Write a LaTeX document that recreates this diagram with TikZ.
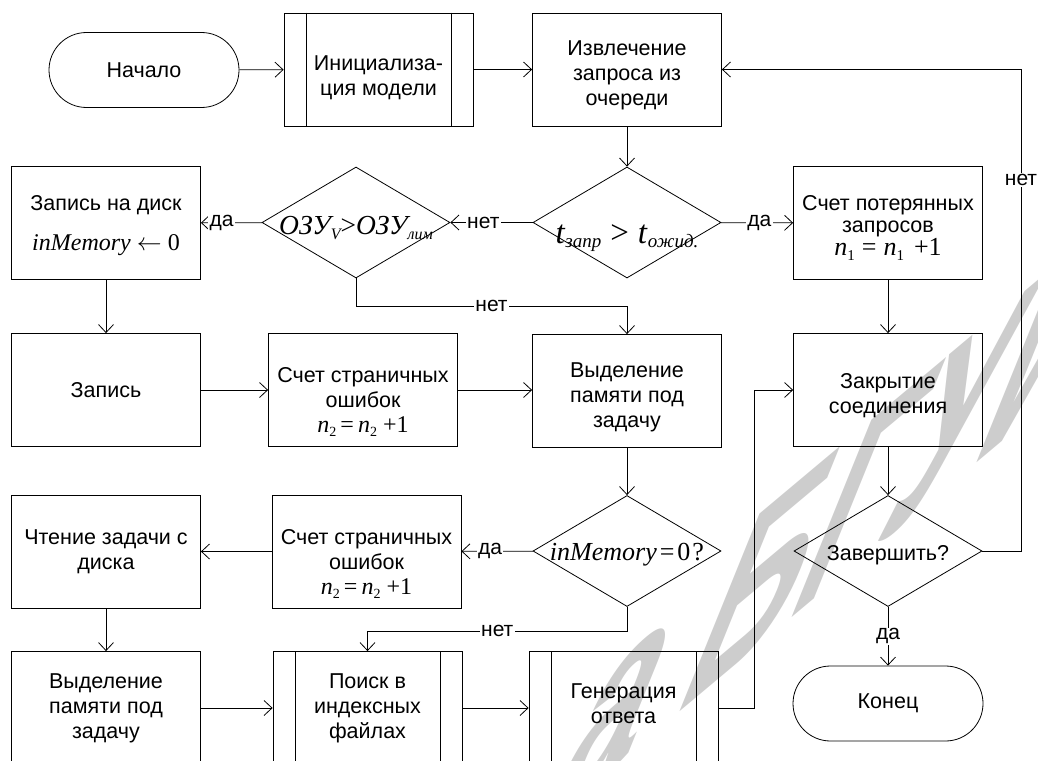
\documentclass[tikz,border=0pt]{standalone}
\usepackage{fontspec}
\setmainfont{Liberation Sans}
\newfontfamily\tmr{Liberation Serif}
\newfontfamily\wmfont{Liberation Sans}
\usetikzlibrary{arrows.meta,shapes.geometric,calc}
\newcommand\fsz[1]{\fontsize{#1}{#1}\selectfont}
\newcommand\lowsub[2]{\raisebox{-#1}{#2}}
\definecolor{wmgray}{RGB}{205,205,205}
\tikzset{
  shapeline/.style={draw, line width=0.8pt, inner sep=0pt},
  proc/.style={shapeline, minimum width=189pt, minimum height=113pt, align=center,
    font=\fontsize{21.5}{25}\selectfont},
  subproc/.style={proc},
  term/.style={shapeline, minimum width=190pt, minimum height=75pt, rounded corners=37.5pt,
    font=\fontsize{21.5}{25}\selectfont},
  decision/.style={shapeline, diamond, aspect=1.69, minimum width=188pt, minimum height=111pt},
  txt/.style={align=center, inner sep=0pt, font=\fontsize{21.5}{25}\selectfont},
  flow/.style={line width=0.8pt, -{Straight Barb[length=8pt,width=15pt]}},
  plain/.style={line width=0.8pt},
  lbl/.style={fill=white, inner xsep=1.5pt, inner ysep=1pt, font=\fontsize{21}{21}\selectfont},
}
\begin{document}
\begin{tikzpicture}[x=1pt, y=-1pt]
\useasboundingbox (0,0) rectangle (1038,760);
\clip (0,0) rectangle (1038,760);

% watermark (slanted, rising lettering)
\begin{scope}[shift={(540,829)}, cm={0.502,0.421,0.375,0.927,(0,0)}]
  \node[transform shape, anchor=base west, inner sep=0pt, text=wmgray,
        font=\wmfont\bfseries\fsz{310}] (wmark) at (0,0) {а БГУИР};
\end{scope}

% helper columns for the loop-back lines
\coordinate (loopR) at (1021,0);
\coordinate (midR) at (754,0);

% row 1
\node[term] (start) at (144,70) {Начало};
\node[subproc] (init) at (378.5,69.5) {};
\node[txt] (init-t) at ([yshift=-8pt]init.center) {Инициализа-\\ция модели};
\node[proc] (extract) at (627,69.5) {};
\node[txt] (extract-t) at ([yshift=-6pt]extract.center) {Извлечение\\запроса из\\очереди};

% row 2
\node[proc] (disk) at (106,223) {};
\node[txt] (disk-t) at ([yshift=-3pt]disk.center)
  {Запись на диск\\[15pt]{\tmr\fsz{24}\textit{inMemory}\hspace{6pt}$\leftarrow$\hspace{6pt}0}};
\node[decision] (ozu) at (356,222.5) {};
\node[txt, anchor=base] (ozu-t) at ([yshift=-12pt]ozu.center)
  {\tmr\itshape\fsz{27.5}ОЗУ\lowsub{5pt}{\fsz{16}V}{\upshape>}ОЗУ\lowsub{5pt}{\fsz{16}лим}};
\node[decision] (tdec) at (627,222.5) {};
\node[txt, anchor=base] (tdec-t) at ([yshift=-21pt]tdec.center)
  {\tmr\fsz{33}\textit{t}\lowsub{4pt}{\fsz{19}\textit{запр}}\hspace{9pt}>\hspace{9pt}\textit{t}\lowsub{4pt}{\fsz{19}\textit{ожид.}}};
\node[proc] (lost) at (888,223) {};
\node[txt] (lost-t) at ([yshift=-5pt]lost.center)
  {Счет потерянных\\[-3pt]запросов\\[-2pt]{\tmr\fsz{26}\textit{n}\lowsub{5pt}{\fsz{15}1}\hspace{7pt}=\hspace{7pt}\textit{n}\lowsub{5pt}{\fsz{15}1}\hspace{10pt}+1}};

% row 3
\node[proc] (write) at (106,390) {Запись};
\node[proc] (pf1) at (363,390) {};
\node[txt] (pf1-t) at ([yshift=-12pt]pf1.center)
  {Счет страничных\\ошибок\\{\tmr\fsz{24}\textit{n}\lowsub{4pt}{\fsz{14}2}\hspace{4pt}=\hspace{4pt}\textit{n}\lowsub{4pt}{\fsz{14}2}\hspace{6pt}+1}};
\node[proc] (alloc) at (627,391) {};
\node[txt] (alloc-t) at ([yshift=-6pt]alloc.center) {Выделение\\памяти под\\задачу};
\node[proc] (close) at (888,390) {};
\node[txt] (close-t) at ([yshift=-6pt]close.center) {Закрытие\\соединения};

% row 4
\node[proc] (read) at (106,551.5) {Чтение задачи с\\диска};
\node[proc] (pf2) at (366.5,551.5) {};
\node[txt] (pf2-t) at ([yshift=-12pt]pf2.center)
  {Счет страничных\\ошибок\\{\tmr\fsz{24}\textit{n}\lowsub{4pt}{\fsz{14}2}\hspace{4pt}=\hspace{4pt}\textit{n}\lowsub{4pt}{\fsz{14}2}\hspace{6pt}+1}};
\node[decision] (inmem) at (627,551) {};
\node[txt, anchor=base] (inmem-t) at ([yshift=-9pt]inmem.center)
  {\tmr\fsz{26}\textit{inMemory}\hspace{3pt}=\hspace{3pt}0\hspace{2pt}?};
\node[decision] (finish) at (888,551) {};
\node[txt] (finish-t) at ([yshift=-4pt]finish.center) {Завершить?};

% row 5
\node[proc] (alloc2) at (106,708) {Выделение\\памяти под\\задачу};
\node[subproc] (search) at (367.5,708) {Поиск в\\индексных\\файлах};
\node[subproc] (gen) at (623.5,708) {};
\node[txt] (gen-t) at ([yshift=4pt]gen.center) {Генерация\\ответа};
\node[term] (end) at (888,703.5) {Конец};

% side bars of the predefined-process blocks
\foreach \n in {init,search,gen}{
  \draw[plain] ([xshift=22.5pt]\n.north west) -- ([xshift=22.5pt]\n.south west);
  \draw[plain] ([xshift=-22.5pt]\n.north east) -- ([xshift=-22.5pt]\n.south east);
}

% connectors
\draw[flow] (start) -- (init);
\draw[flow] (init) -- (extract);
\draw[flow] (extract) -- (tdec);
\draw[flow] (tdec) -- node[lbl, pos=0.53] (l-da1) {да} (lost);
\draw[flow] (tdec) -- node[lbl, pos=0.6] (l-net1) {нет} (ozu);
\draw[flow] (ozu) -- node[lbl, pos=0.66] (l-da2) {да} (disk);
\draw[flow] (ozu.south) |- node[lbl, pos=0.75] (l-net2) {нет} ($(alloc.north)+(0,-28)$) -- (alloc.north);
\draw[flow] (disk) -- (write);
\draw[flow] (write) -- (pf1);
\draw[flow] (pf1.east) -- (pf1.east -| alloc.west);
\draw[flow] (lost) -- (close);
\draw[flow] (alloc) -- (inmem);
\draw[flow] (inmem) -- node[lbl, pos=0.6] (l-da3) {да} (pf2);
\draw[flow] (pf2) -- (read);
\draw[flow] (read) -- (alloc2);
\draw[flow] (alloc2) -- (search);
\draw[flow] (search) -- (gen);
\draw[flow] (inmem.south) |- node[lbl, pos=0.75] (l-net3) {нет} ($(search.north)+(0,-20)$) -- (search.north);
\draw[flow] (gen.east) -- (gen.east -| midR) -- (close.west -| midR) -- (close.west);
\draw[flow] (close) -- (finish);
\draw[flow] (finish) -- node[lbl] (l-da4) {да} (end);
\draw[flow] (finish.east) -- (finish.east -| loopR) -- node[lbl, pos=0.77] (l-net4) {нет} (extract.east -| loopR) -- (extract.east);
\end{tikzpicture}
\end{document}
